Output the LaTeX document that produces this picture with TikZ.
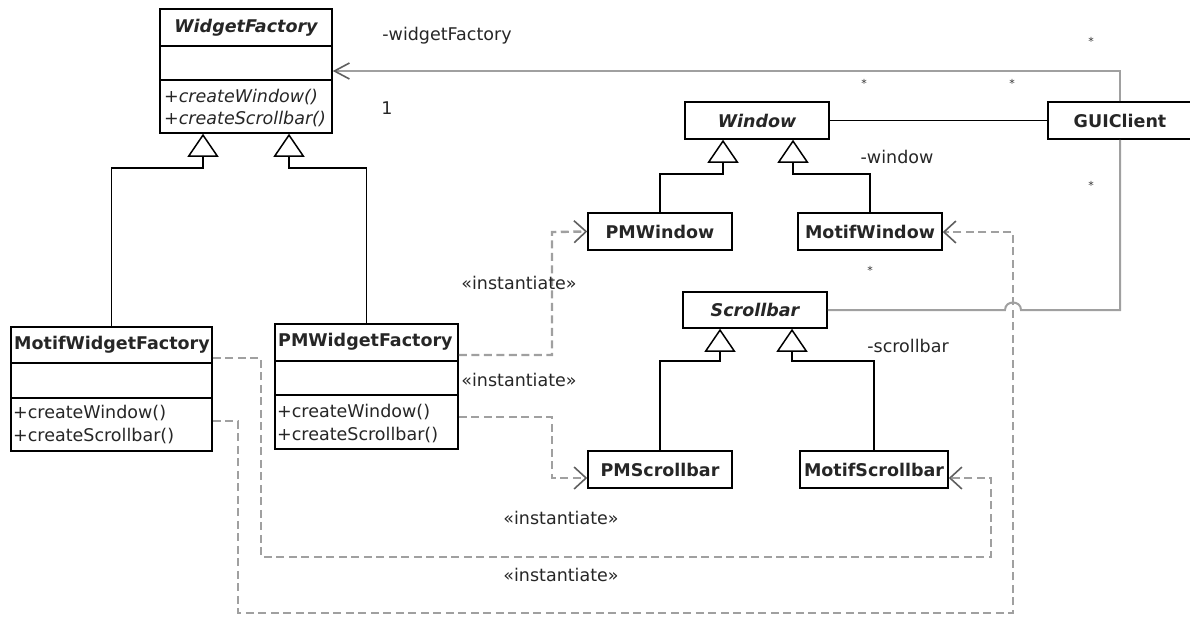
\documentclass[tikz,border=0pt]{standalone}
\usepackage{fontspec}
\setmainfont{DejaVu Sans}
\usetikzlibrary{arrows.meta}
\definecolor{lgray}{RGB}{160,160,160}
\definecolor{dgray}{RGB}{95,95,95}
\tikzset{
  cls/.style={draw=black, line width=1.5pt, fill=white, inner sep=0pt},
  sbox/.style={cls, minimum width=144pt, minimum height=37pt, font=\bfseries, text=black!85},
  div/.style={draw=black, line width=1.5pt},
  lbl/.style={inner sep=0pt, text=black!85},
  inh/.style={draw=black, line width=1.5pt, -{Triangle[width=31pt,length=23pt,fill=white,line width=1.5pt]}},
  assoc/.style={draw=lgray, line width=2.4pt, -{Straight Barb[length=15pt,width=16pt,color=dgray,line width=1.6pt]}},
  blink/.style={draw=black, line width=1.5pt},
  glink/.style={draw=lgray, line width=2pt},
  inst/.style={draw=lgray, line width=2.4pt, dash pattern=on 8pt off 4.5pt, -{Straight Barb[length=12pt,width=22pt,color=dgray,line width=1.6pt]}},
  mult/.style={inner sep=0pt, font=\fontsize{11}{11}\selectfont, text=black!80},
}
\begin{document}%
\fontsize{17.5}{21}\selectfont%
\begin{tikzpicture}[x=1pt,y=-1pt]
\useasboundingbox (0,0) rectangle (1190,616);

% WidgetFactory
\node[cls, minimum width=172pt, minimum height=124pt] (wf) at (246,71) {};
\draw[div] (wf.west |- 0,46) -- (wf.east |- 0,46);
\draw[div] (wf.west |- 0,80) -- (wf.east |- 0,80);
\node[lbl, font=\bfseries\itshape] (wft) at (246,28) {WidgetFactory};
\node[lbl, font=\itshape, anchor=west] (wfm1) at (164,97) {+createWindow()};
\node[lbl, font=\itshape, anchor=west] (wfm2) at (164,119) {+createScrollbar()};

% MotifWidgetFactory
\node[cls, minimum width=201pt, minimum height=124pt] (mwf) at (111.5,389) {};
\draw[div] (mwf.west |- 0,363) -- (mwf.east |- 0,363);
\draw[div] (mwf.west |- 0,398) -- (mwf.east |- 0,398);
\node[lbl, font=\bfseries, anchor=west] (mwft) at (14,345) {MotifWidgetFactory};
\node[lbl, anchor=west] (mwfm1) at (13,413) {+createWindow()};
\node[lbl, anchor=west] (mwfm2) at (13,436) {+createScrollbar()};

% PMWidgetFactory
\node[cls, minimum width=183pt, minimum height=125pt] (pwf) at (366.5,386.5) {};
\draw[div] (pwf.west |- 0,361) -- (pwf.east |- 0,361);
\draw[div] (pwf.west |- 0,395) -- (pwf.east |- 0,395);
\node[lbl, font=\bfseries, anchor=west] (pwft) at (278,342) {PMWidgetFactory};
\node[lbl, anchor=west] (pwfm1) at (277,412) {+createWindow()};
\node[lbl, anchor=west] (pwfm2) at (277,435) {+createScrollbar()};

% simple classes
\node[sbox, font=\bfseries\itshape] (win) at (757,120.5) {Window};
\node[sbox] (gui) at (1120,120.5) {GUIClient};
\node[sbox] (pwin) at (660,231.5) {PMWindow};
\node[sbox] (mwin) at (870,231.5) {MotifWindow};
\node[sbox, minimum height=36pt, font=\bfseries\itshape] (sb) at (755,310) {Scrollbar};
\node[sbox] (psb) at (660,469.5) {PMScrollbar};
\node[sbox, minimum width=148pt] (msb) at (874,469.5) {MotifScrollbar};

% generalizations
\draw[inh] (mwf.north) |- (203,168) -- (wf.south -| 203,168);
\draw[inh] (pwf.north) |- (289,168) -- (wf.south -| 289,168);
\draw[inh] (pwin.north) |- (723,174) -- (win.south -| 723,174);
\draw[inh] (mwin.north) |- (793,174) -- (win.south -| 793,174);
\draw[inh] (psb.north) |- (720,361) -- (sb.south -| 720,361);
\draw[inh] (msb.north) |- (792,361) -- (sb.south -| 792,361);

% associations
\draw[assoc] (gui.north) |- (wf.east);
\draw[blink] (win.east) -- (gui.west);
\draw[glink] (sb.east) -- (1005,310) .. controls (1005,300) and (1021,300) .. (1021,310) -- (gui.south |- sb.east) -- (gui.south);

% instantiate dependencies
\draw[inst] (pwf.east |- 0,355) -| (552,232) -- (pwin.west);
\draw[inst] (pwf.east |- 0,417) -| (552,478) -- (psb.west |- 0,478);
\draw[inst] (mwf.east |- 0,358) -| (261,557) -| (991,478) -- (msb.east |- 0,478);
\draw[inst] (mwf.east |- 0,421) -| (238,613) -| (1013,232) -- (mwin.east |- 0,232);

% labels
\node[lbl] (lwf) at (447,36) {-widgetFactory};
\node[lbl] (lone) at (387,108) {1};
\node[lbl] (lwin) at (897,157) {-window};
\node[lbl] (lsb) at (908,346) {-scrollbar};
\node[lbl] (li1) at (519,283) {«instantiate»};
\node[lbl] (li2) at (519,380) {«instantiate»};
\node[lbl] (li3) at (561,518) {«instantiate»};
\node[lbl] (li4) at (561,575) {«instantiate»};

\node[mult] (m1) at (1091,41) {*};
\node[mult] (m2) at (864,83) {*};
\node[mult] (m3) at (1012,83) {*};
\node[mult] (m4) at (1091,185) {*};
\node[mult] (m5) at (870,270) {*};
\end{tikzpicture}
\end{document}
